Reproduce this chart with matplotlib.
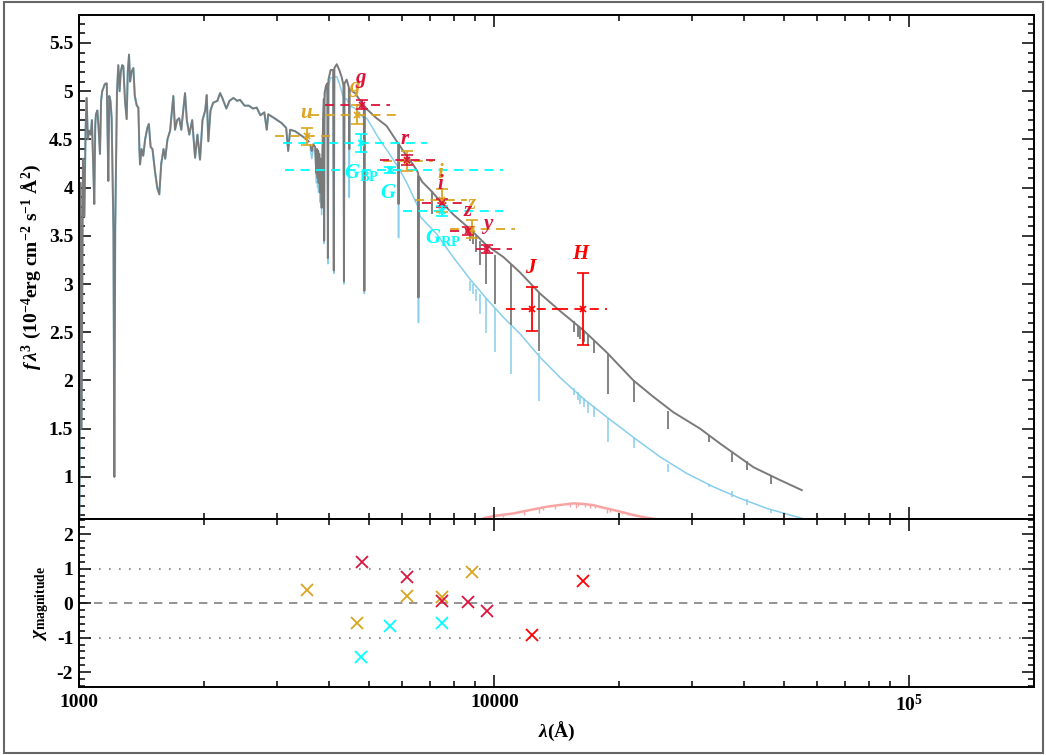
import numpy as np
import matplotlib
matplotlib.use('Agg')
import matplotlib.pyplot as plt
from matplotlib.ticker import MultipleLocator, NullFormatter, FixedLocator, LogLocator
from matplotlib.patches import Rectangle

plt.rcParams.update({
    'font.family': ['Liberation Serif', 'DejaVu Serif'],
    'font.weight': 'bold',
    'axes.labelweight': 'bold',
    'axes.unicode_minus': False,
    'mathtext.fontset': 'custom',
    'mathtext.rm': 'Liberation Serif:bold',
    'mathtext.it': 'Liberation Serif:italic:bold',
    'mathtext.bf': 'Liberation Serif:bold',
})

# ---- model spectra (f lambda^3, 1e-4 units) ----
# UV part, where the hot component and the sum coincide
uv_wl = [1000, 1006, 1012, 1020, 1028, 1035, 1041, 1048, 1056, 1065, 1072, 1080, 1086,
         1092, 1096, 1105, 1113, 1121, 1128, 1135, 1142, 1150, 1158, 1164, 1170, 1174,
         1180, 1188, 1196, 1208, 1214, 1220, 1232, 1241, 1250, 1258, 1268, 1276, 1288,
         1300, 1308, 1317, 1325, 1335, 1349, 1360, 1375, 1387, 1395, 1400, 1412, 1425,
         1440, 1458, 1470, 1485, 1500, 1521, 1540, 1558, 1575, 1595, 1610, 1630, 1654,
         1684, 1700, 1720, 1740, 1760, 1797, 1815, 1840, 1870, 1900, 1925, 1953, 1980,
         2010, 2027, 2045, 2070, 2100, 2150, 2183, 2210, 2260, 2300, 2350, 2400, 2439,
         2500, 2560, 2620, 2675, 2730, 2790, 2828, 2851, 2950, 3070, 3150, 3185, 3220,
         3310, 3400, 3480, 3566]
uv_flux = [0.40, 4.05, 1.50, 4.30, 3.70, 4.60, 4.93, 4.50, 4.59, 4.55, 4.70, 4.21, 3.83,
           4.65, 4.76, 4.80, 4.60, 4.35, 4.90, 5.00, 5.03, 5.07, 5.08, 5.08, 4.50, 4.07,
           4.95, 4.90, 4.72, 3.55, 1.00, 3.60, 5.00, 5.27, 5.00, 5.20, 5.27, 5.26, 4.90,
           4.71, 5.20, 5.38, 5.10, 5.20, 5.24, 4.95, 4.85, 4.83, 4.40, 4.24, 4.40, 4.33,
           4.50, 4.62, 4.66, 4.42, 4.40, 4.17, 4.00, 3.93, 4.25, 4.40, 4.30, 4.50, 4.59,
           4.95, 4.60, 4.70, 4.72, 4.60, 4.98, 4.70, 4.55, 4.70, 4.31, 4.55, 4.29, 4.70,
           4.80, 4.96, 4.48, 4.80, 4.88, 4.90, 4.98, 4.93, 4.82, 4.90, 4.93, 4.90, 4.91,
           4.85, 4.85, 4.82, 4.83, 4.75, 4.78, 4.60, 4.76, 4.72, 4.67, 4.62, 4.38, 4.60,
           4.585, 4.55, 4.52, 4.48]

# composite (grey) beyond the UV
comp_wl = [3600, 3631, 3660, 3700, 3722, 3740, 3750, 3762, 3771, 3785, 3798, 3815, 3835,
           3850, 3870, 3882, 3889, 3897, 3930, 3958, 3970, 3983, 4030, 4088, 4102, 4116,
           4170, 4230, 4290, 4328, 4340, 4353, 4405, 4460, 4471, 4482, 4617, 4700, 4800,
           4848, 4861, 4874, 4937, 5200, 5499, 5817, 5866, 5876, 5886, 6030, 6366, 6500,
           6553, 6563, 6573, 6622, 6700, 7063, 7265, 7966, 8738, 9587, 10513, 11533,
           12890, 14400, 16390, 18660, 21630, 24160, 27000, 31310, 34990, 42100, 48830,
           55060]
comp_flux = [4.44, 4.38, 4.45, 4.42, 4.15, 4.40, 4.10, 4.38, 4.05, 4.35, 3.95, 4.30, 3.79,
             4.35, 4.75, 4.92, 3.45, 4.98, 5.06, 5.08, 3.27, 5.12, 5.22, 5.22, 3.14, 5.24,
             5.28, 5.22, 5.14, 5.06, 3.03, 5.08, 5.12, 5.04, 4.40, 5.02, 4.98, 4.93, 4.88,
             4.84, 2.93, 4.84, 4.81, 4.72, 4.64, 4.48, 4.46, 3.83, 4.45, 4.38, 4.24, 4.18,
             4.15, 2.86, 4.12, 4.10, 4.06, 3.96, 3.90, 3.72, 3.57, 3.40, 3.28, 3.12,
             2.90, 2.72, 2.52, 2.29, 2.00, 1.83, 1.67, 1.50, 1.345, 1.10, 0.966,
             0.862]
comp_line_wl = [7063, 8750, 8863, 9015, 9229, 9546, 10049, 10938, 12818, 15560, 15880,
                16110, 16407, 16807, 17362, 18751, 21655, 26252, 32960, 37395, 40512, 46525]
comp_line_top = [3.96, 3.57, 3.55, 3.50, 3.45, 3.41, 3.30, 3.21, 2.91, 2.62, 2.58,
                 2.55, 2.52, 2.47, 2.42, 2.28, 2.00, 1.68, 1.42, 1.25, 1.16, 1.02]
comp_line_bot = [3.73, 3.45, 3.42, 3.33, 3.20, 3.00, 2.79, 2.57, 2.31, 2.50, 2.45,
                 2.43, 2.40, 2.36, 2.28, 1.86, 1.78, 1.50, 1.36, 1.155, 1.07, 0.93]

# hot component (light blue) beyond the UV
hot_wl = [3600, 3631, 3660, 3700, 3722, 3740, 3750, 3762, 3771, 3785, 3798, 3815, 3835,
          3850, 3870, 3882, 3889, 3897, 3930, 3958, 3970, 3983, 4030, 4088, 4102, 4116,
          4170, 4230, 4290, 4328, 4340, 4353, 4405, 4460, 4471, 4482, 4617, 4750, 4848,
          4861, 4874, 4925, 5250, 5606, 5866, 5876, 5886, 6150, 6450, 6553, 6563, 6573,
          6622, 7265, 7966, 8738, 9587, 10513, 11533, 12890, 14400, 16390, 18660, 21630,
          25080, 29090, 33710, 39100, 45340, 51600, 63000]
hot_flux = [4.40, 4.30, 4.40, 4.38, 4.05, 4.35, 4.00, 4.33, 3.95, 4.30, 3.85, 4.25, 3.72,
            4.30, 4.70, 4.87, 3.42, 4.92, 5.00, 5.02, 3.21, 5.05, 5.14, 5.14, 3.11, 5.15,
            5.15, 5.08, 4.99, 4.92, 3.00, 4.92, 4.92, 4.87, 3.90, 4.85, 4.82, 4.76, 4.72,
            2.90, 4.72, 4.72, 4.52, 4.34, 4.21, 3.48, 4.20, 4.05, 3.86, 3.80, 2.60, 3.78,
            3.70, 3.517, 3.275, 3.05, 2.845, 2.655, 2.483, 2.24, 2.03, 1.81, 1.62, 1.41,
            1.207, 1.035, 0.897, 0.777, 0.673, 0.604, 0.50]
hot_line_wl = [8750, 8863, 9015, 9229, 9546, 10049, 10938, 12818, 15560, 15880, 16110,
               16407, 16807, 17362, 18751, 21655, 26252, 32960, 37395, 40512, 46525]
hot_line_top = [3.03, 3.00, 2.95, 2.90, 2.85, 2.75, 2.61, 2.28, 1.92, 1.88, 1.85,
                1.82, 1.77, 1.73, 1.61, 1.41, 1.13, 0.93, 0.85, 0.77, 0.67]
hot_line_bot = [2.93, 2.90, 2.82, 2.69, 2.49, 2.29, 2.07, 1.79, 1.85, 1.80, 1.76,
                1.72, 1.66, 1.62, 1.36, 1.30, 1.05, 0.89, 0.79, 0.71, 0.62]

# cool companion (pink)
cool_wl = [9000, 9420, 10000, 11100, 12000, 13370, 14500, 15500, 16300, 17300, 18300,
           19370, 20500, 21630, 23000, 24630, 26000]
cool_flux = [0.50, 0.57, 0.595, 0.62, 0.65, 0.69, 0.71, 0.725, 0.72, 0.707, 0.68,
             0.656, 0.63, 0.604, 0.58, 0.56, 0.53]
cool_dip_wl = [10500, 11800, 12800, 13100, 14000, 15200, 15700, 15900, 16500, 17000,
               17500, 18700, 19000, 20300, 21000, 22900]
cool_dip_top = [0.60, 0.645, 0.675, 0.68, 0.70, 0.72, 0.725, 0.725, 0.72, 0.712,
                0.705, 0.67, 0.665, 0.635, 0.62, 0.583]
cool_dip_bot = [0.585, 0.60, 0.63, 0.66, 0.665, 0.69, 0.68, 0.70, 0.69, 0.675,
                0.68, 0.62, 0.64, 0.61, 0.60, 0.565]

# ---- photometry ----
sdss_wl = [3530, 4660, 6160, 7468, 8820]
sdss_flux = [4.533, 4.758, 4.275, 3.869, 3.569]
sdss_err = [0.09, 0.10, 0.10, 0.12, 0.09]
sdss_lo = [2960, 3596, 5386, 6437, 7822]
sdss_hi = [4018, 5828, 7109, 8596, 11217]
sdss_chi = [0.38, -0.59, 0.20, 0.18, 0.91]

ps1_wl = [4807, 6150, 7468, 8655, 9619]
ps1_flux = [4.861, 4.285, 3.844, 3.551, 3.362]
ps1_err = [0.05, 0.05, 0.04, 0.04, 0.04]
ps1_lo = [3907, 5303, 6694, 7822, 9035]
ps1_hi = [5603, 7277, 8406, 9135, 11033]
ps1_chi = [1.20, 0.76, 0.06, 0.02, -0.23]

gaia_wl = [4764, 5606, 7493]
gaia_flux = [4.464, 4.179, 3.758]
gaia_err = [0.09, 0.03, 0.05]
gaia_lo = [3089, 3123, 6026]
gaia_hi = [6881, 10471, 10471]
gaia_chi = [-1.57, -0.66, -0.59]

tmass_wl = [12350, 16390]
tmass_flux = [2.741, 2.741]
tmass_err = [0.23, 0.37]
tmass_lo = [10670, 14290]
tmass_hi = [14290, 18660]
tmass_chi = [-0.93, 0.64]

c_sdss, c_ps1, c_gaia, c_2mass = '#DAA520', '#DC143C', '#00FFFF', '#FF0000'

band_labels = [r'$u$', r'$g$', r'$g$', r'$r$', r'$i$', r'$i$', r'$z$', r'$z$', r'$y$',
               r'$G_{\rm BP}$', r'$G$', r'$G_{\rm RP}$', r'$J$', r'$H$']
band_label_wl = [3532, 4620, 4772, 6093, 7428, 7428, 8870, 8655, 9617,
                 4797, 5553, 7534, 12260, 16240]
band_label_y = [4.775, 5.02, 5.12, 4.50, 4.154, 4.04, 3.83, 3.76, 3.60,
                4.154, 3.947, 3.48, 3.17, 3.31]
band_label_col = [c_sdss, c_sdss, c_ps1, c_ps1, c_sdss, c_ps1, c_sdss, c_ps1, c_ps1,
                  c_gaia, c_gaia, c_gaia, c_2mass, c_2mass]

# ---- figure ----
fig = plt.figure(figsize=(10.46, 7.55), dpi=100)
ax1 = fig.add_axes([0.0759, 0.3126, 0.9129, 0.6675])
ax2 = fig.add_axes([0.0759, 0.0897, 0.9129, 0.2229], sharex=ax1)

grey, blue, pink = '#7A7A7A', '#87CEEB', '#F9A3A3'

ax1.plot(uv_wl, uv_flux, color=blue, lw=1.5, zorder=1)
ax1.plot(hot_wl, hot_flux, color=blue, lw=1.1, zorder=1)
ax1.vlines(hot_line_wl, hot_line_bot, hot_line_top, color=blue, lw=1.1, zorder=1)
ax1.plot(uv_wl, uv_flux, color=grey, lw=1.3, zorder=2)
ax1.plot(comp_wl, comp_flux, color=grey, lw=1.4, zorder=2)
ax1.vlines(comp_line_wl, comp_line_bot, comp_line_top, color=grey, lw=1.3, zorder=2)
ax1.plot(cool_wl, cool_flux, color=pink, lw=1.8, zorder=1)
ax1.vlines(cool_dip_wl, cool_dip_bot, cool_dip_top, color=pink, lw=1.0, zorder=1)

dash = (0, (5, 3.5))
for wl, fl, er, lo, hi, c in [(sdss_wl, sdss_flux, sdss_err, sdss_lo, sdss_hi, c_sdss),
                              (ps1_wl, ps1_flux, ps1_err, ps1_lo, ps1_hi, c_ps1),
                              (gaia_wl, gaia_flux, gaia_err, gaia_lo, gaia_hi, c_gaia),
                              (tmass_wl, tmass_flux, tmass_err, tmass_lo, tmass_hi, c_2mass)]:
    ax1.hlines(fl, lo, hi, colors=c, linestyles=dash, lw=1.3, zorder=3)
    ax1.errorbar(wl, fl, yerr=er, fmt='x', ms=5, mew=1.2, color=c, ecolor=c,
                 elinewidth=1.3, capsize=4.5, capthick=1.3, zorder=4)

for t, x, y, c in zip(band_labels, band_label_wl, band_label_y, band_label_col):
    ax1.text(x, y, t, color=c, fontsize=15, ha='center', va='center', zorder=5)

ax1.set_xscale('log')
ax1.set_xlim(1000, 2e5)
ax1.set_ylim(0.563, 5.79)
ax1.yaxis.set_major_locator(MultipleLocator(0.5))
ax1.yaxis.set_minor_locator(MultipleLocator(0.1))
ax1.set_yticks([1, 1.5, 2, 2.5, 3, 3.5, 4, 4.5, 5, 5.5])
ax1.set_yticklabels(['1', '1.5', '2', '2.5', '3', '3.5', '4', '4.5', '5', '5.5'])
ax1.set_ylabel(r'$f\,\lambda^3$ (10$^{-4}$erg cm$^{-2}$ s$^{-1}$ $\mathrm{\AA}^2$)', fontsize=14)
ax1.tick_params(axis='x', which='both', labelbottom=False)

# residuals
ax2.axhline(0, color='#808080', lw=1.2, ls=(0, (5, 4)), zorder=1)
ax2.axhline(1, color='#808080', lw=1.2, ls=(0, (1, 5)), zorder=1)
ax2.axhline(-1, color='#808080', lw=1.2, ls=(0, (1, 5)), zorder=1)
for wl, chi, c in [(sdss_wl, sdss_chi, c_sdss), (ps1_wl, ps1_chi, c_ps1),
                   (gaia_wl, gaia_chi, c_gaia), (tmass_wl, tmass_chi, c_2mass)]:
    ax2.plot(wl, chi, 'x', color=c, ms=9, mew=1.3, zorder=3)
ax2.set_ylim(-2.44, 2.44)
ax2.yaxis.set_major_locator(MultipleLocator(1))
ax2.yaxis.set_minor_locator(MultipleLocator(0.2))
ax2.set_ylabel(r'$\chi_{\rm magnitude}$', fontsize=14)
ax2.xaxis.set_major_locator(FixedLocator([1000, 10000, 100000]))
ax2.xaxis.set_minor_locator(LogLocator(base=10, subs=np.arange(2, 10), numticks=20))
ax2.xaxis.set_minor_formatter(NullFormatter())
ax2.set_xticklabels(['1000', '10000', r'$10^5$'])
ax2.set_xlabel(r'$\lambda$(Å)', fontsize=14)

for ax in (ax1, ax2):
    ax.tick_params(which='both', direction='in', top=True, right=True, labelsize=14, width=1.1)
    ax.tick_params(which='major', length=8.5, pad=4.5)
    ax.tick_params(which='minor', length=4.5)
    for lab in ax.get_xticklabels() + ax.get_yticklabels():
        lab.set_fontweight('bold')
    for s in ax.spines.values():
        s.set_linewidth(1.4)

fig.align_ylabels([ax1, ax2])
fig.patches.append(Rectangle((0.004, 0.003), 0.993, 0.994, transform=fig.transFigure,
                             fill=False, edgecolor='#666666', lw=1.5))

fig.savefig('out.png', dpi=100)
